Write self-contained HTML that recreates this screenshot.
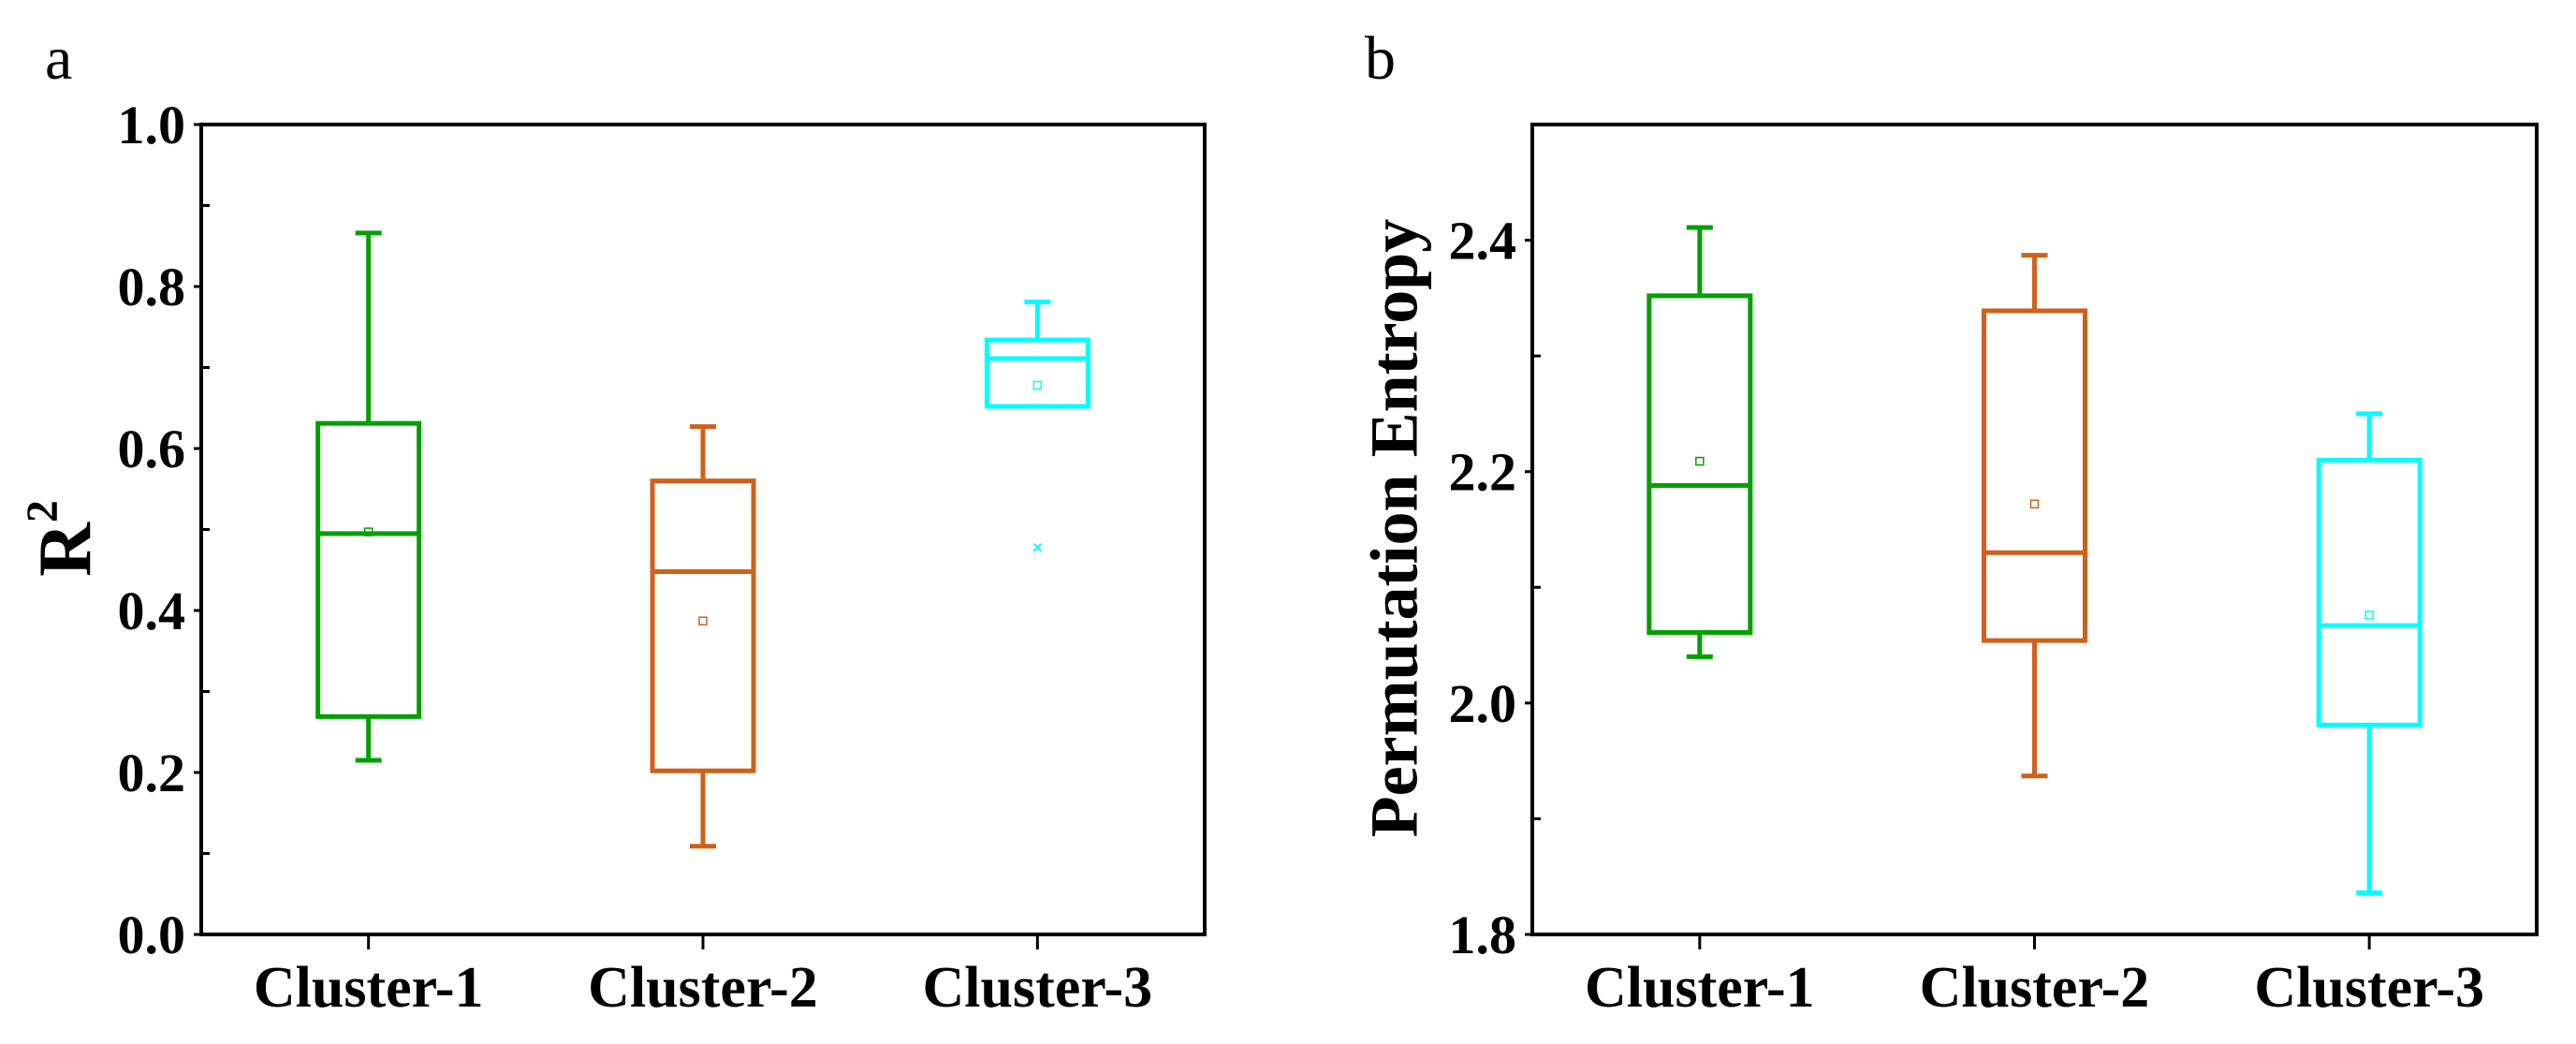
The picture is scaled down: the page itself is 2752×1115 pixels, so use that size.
<!DOCTYPE html>
<html><head><meta charset="utf-8"><style>
html,body{margin:0;padding:0;background:#fff;}
svg{display:block;}
text{font-family:"Liberation Serif",serif;}
</style></head><body>
<svg id="fig" width="2752" height="1115" viewBox="0 0 2752 1115" xmlns="http://www.w3.org/2000/svg"></svg>
<script>
const categories = ["Cluster-1","Cluster-2","Cluster-3"];
const colors = ["#00a000","#d0601a","#00ffff"];
// Panel a (R^2)
const aWhiskerHigh = [0.866, 0.627, 0.781];
const aQ3 = [0.631, 0.560, 0.734];
const aMedian = [0.495, 0.448, 0.711];
const aMean = [0.497, 0.387, 0.678];
const aQ1 = [0.269, 0.202, 0.652];
const aWhiskerLow = [0.215, 0.109, 0.652];
const aOutliers = [[], [], [0.478]];
const aTicks = ["0.0","0.2","0.4","0.6","0.8","1.0"];
// Panel b (Permutation Entropy)
const bWhiskerHigh = [2.411, 2.387, 2.250];
const bQ3 = [2.352, 2.339, 2.210];
const bMedian = [2.188, 2.130, 2.067];
const bMean = [2.209, 2.172, 2.076];
const bQ1 = [2.061, 2.054, 1.981];
const bWhiskerLow = [2.040, 1.937, 1.836];
const bOutliers = [[], [], []];
const bTicks = ["1.8","2.0","2.2","2.4"];

const NS = "http://www.w3.org/2000/svg";
const svg = document.getElementById("fig");
function mk(tag, attrs, parent){
  const e = document.createElementNS(NS, tag);
  for (const k in attrs) e.setAttribute(k, attrs[k]);
  (parent||svg).appendChild(e);
  return e;
}

function panel(opt){
  const {L,R,T,B,ymin,ymax,ticks,minor,hi,q3,med,mean,q1,lo,outl,name,ylabel,ylx,yly,ylSize,letter,letterX,sup} = opt;
  const g = mk("g", {});
  
  
  const y = v => B - (v - ymin) / (ymax - ymin) * (B - T);
  const x = i => L + (R - L) * (2*i + 1) / (2*categories.length);
  const frame = mk("rect", {x:L, y:T, width:R-L, height:B-T, fill:"none", stroke:"#000", "stroke-width":4}, g);
  
  
  minor.forEach(v => {
    const t = mk("line", {x1:L, x2:L+9, y1:y(v), y2:y(v), stroke:"#000", "stroke-width":3}, g);
    
    
  });
  ticks.forEach(s => {
    const v = parseFloat(s);
    const tk = mk("line", {x1:L-8, x2:L, y1:y(v), y2:y(v), stroke:"#000", "stroke-width":3}, g);
    
    
    const t = mk("text", {x:L-17, y:y(v)+20, "text-anchor":"end", "font-size":58, "font-weight":"bold"}, g);
    t.textContent = s;
    
    
  });
  categories.forEach((c, i) => {
    const cx = x(i), col = colors[i], hw = 54, cap = 14;
    const tk = mk("line", {x1:cx, x2:cx, y1:B, y2:B+16, stroke:"#000", "stroke-width":3}, g);
    
    
    const lab = mk("text", {x:cx, y:B+77, "text-anchor":"middle", "font-size":62, "font-weight":"bold"}, g);
    lab.textContent = c;
    
    
    const bg = mk("g", {stroke:col, fill:"none", "stroke-width":5}, g);
    
    
    mk("line", {x1:cx, x2:cx, y1:y(hi[i]), y2:y(q3[i])}, bg);
    mk("line", {x1:cx, x2:cx, y1:y(q1[i]), y2:y(lo[i])}, bg);
    mk("line", {x1:cx-cap, x2:cx+cap, y1:y(hi[i]), y2:y(hi[i])}, bg);
    mk("line", {x1:cx-cap, x2:cx+cap, y1:y(lo[i]), y2:y(lo[i])}, bg);
    mk("rect", {x:cx-hw, y:y(q3[i]), width:2*hw, height:y(q1[i])-y(q3[i])}, bg);
    mk("line", {x1:cx-hw, x2:cx+hw, y1:y(med[i]), y2:y(med[i])}, bg);
    const m = mk("rect", {x:cx-4, y:y(mean[i])-4, width:8, height:8, "stroke-width":1.5}, bg);
    
    
    outl[i].forEach(v => {
      const o = mk("path", {d:`M${cx-4},${y(v)-4}L${cx+4},${y(v)+4}M${cx-4},${y(v)+4}L${cx+4},${y(v)-4}`, "stroke-width":2}, bg);
      
      
    });
  });
  const yl = mk("text", {x:ylx, y:yly, "text-anchor":"middle", "font-size":ylSize, "font-weight":"bold", transform:`rotate(-90 ${ylx} ${yly})`, "dominant-baseline":"middle"}, g);
  yl.textContent = ylabel;
  if (sup) { const s = mk("tspan", {"font-size":ylSize*0.6, dy:-ylSize*0.35}, yl); s.textContent = sup; }
  
  
  const lt = mk("text", {x:letterX, y:84, "font-size":66}, g);
  lt.textContent = letter;
  
  
}

panel({L:215,R:1287,T:133,B:998,ymin:0,ymax:1,ticks:aTicks,minor:[0.1,0.3,0.5,0.7,0.9],
  hi:aWhiskerHigh,q3:aQ3,med:aMedian,mean:aMean,q1:aQ1,lo:aWhiskerLow,outl:aOutliers,
  name:"panel-a-r2",ylabel:"R",sup:"2",ylx:78,yly:575,ylSize:80,letter:"a",letterX:48});
panel({L:1637,R:2710,T:133,B:998,ymin:1.8,ymax:2.5,ticks:bTicks,minor:[1.9,2.1,2.3],
  hi:bWhiskerHigh,q3:bQ3,med:bMedian,mean:bMean,q1:bQ1,lo:bWhiskerLow,outl:bOutliers,
  name:"panel-b-permutation-entropy",ylabel:"Permutation Entropy",ylx:1497,yly:564,ylSize:72,letter:"b",letterX:1458});
</script>
</body></html>
